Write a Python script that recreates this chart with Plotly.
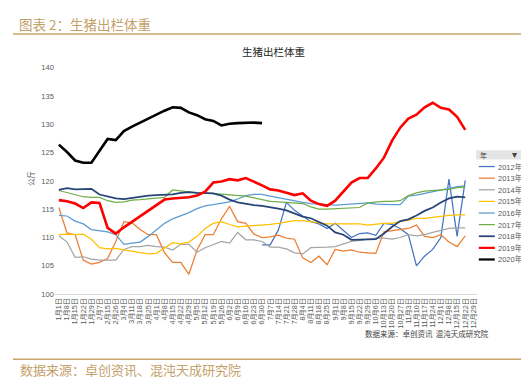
import plotly.graph_objects as go

W, H = 529, 379

categories = ["1月1日","1月8日","1月15日","1月22日","1月29日","2月7日","2月15日","2月26日",
              "3月4日","3月11日","3月18日","3月25日","4月1日","4月8日","4月15日","4月22日","4月29日",
              "5月5日","5月12日","5月19日","5月26日","6月2日","6月9日","6月16日","6月23日","6月30日",
              "7月7日","7月14日","7月21日","7月28日","8月4日","8月11日","8月18日","8月25日",
              "9月1日","9月8日","9月15日","9月22日","9月29日","10月6日","10月13日","10月20日","10月27日",
              "11月3日","11月10日","11月17日","11月24日","12月1日","12月8日","12月15日","12月22日","12月29日"]

y2012 = [None]*25 + [108.7,108.7,111.3,116.2,114.8,113.8,112.8,112.4,111.6,112.5,111.3,110.0,110.7,110.8,110.4,
                     112.5,112.3,111.6,110.5,105.0,106.7,107.9,110.0,120.3,110.2,120.1] + [None]
y2013 = [115.3,110.8,110.5,106.0,105.3,105.6,106.3,109.3,112.8,112.6,111.4,110.5,110.5,107.3,105.6,105.6,103.5,
         107.8,110.5,110.5,113.3,115.5,112.8,112.5,110.6,110.0,110.1,110.4,109.9,109.7,106.4,105.6,106.7,105.2,
         107.9,107.6,107.8,107.4,107.3,107.2,111.0,111.2,111.3,111.6,112.2,110.2,110.0,110.5,109.2,108.4,110.3,None]
y2014 = [110.3,109.2,106.5,106.6,106.2,106.0,106.0,106.0,107.9,108.4,108.4,108.6,108.4,108.3,107.8,108.8,108.8,
         107.4,108.2,108.8,109.3,109.0,110.9,109.6,109.6,109.3,108.3,108.3,108.0,107.3,107.1,108.2,108.2,108.3,
         108.4,108.8,109.3,109.5,109.7,109.9,109.9,109.7,110.0,110.5,110.3,110.5,110.9,111.3,111.6,111.7,111.7,None]
y2015 = [110.5,110.6,110.5,110.6,109.7,108.2,108.0,108.1,107.8,107.6,107.4,107.1,107.2,108.1,109.1,108.9,109.2,
         110.2,111.6,112.5,112.8,112.3,111.9,112.0,112.1,112.1,112.3,112.5,112.8,113.0,113.0,112.8,112.5,112.4,
         112.4,112.4,112.4,112.4,112.2,112.4,112.5,112.5,112.8,113.1,113.4,113.4,113.6,113.8,113.9,114.0,114.0,None]
y2016 = [113.9,113.8,112.9,112.4,111.4,111.2,111.0,110.5,108.8,109.0,109.2,110.2,111.4,112.5,113.3,113.8,114.4,
         115.1,115.6,115.8,116.0,116.3,116.8,117.4,117.6,117.6,117.3,117.0,116.8,116.4,116.2,116.0,115.9,115.8,
         115.7,115.8,115.9,115.9,116.1,115.9,115.8,115.8,115.8,117.3,117.5,117.8,118.1,118.4,118.8,119.0,119.1,None]
y2017 = [118.3,117.9,117.5,117.2,117.1,117.1,116.5,116.2,116.3,116.6,116.7,116.8,116.9,117.1,118.4,118.2,118.0,
         117.9,117.9,117.8,117.6,117.5,117.4,117.3,117.0,116.7,116.4,116.3,116.2,116.2,116.0,115.4,115.0,115.0,
         115.1,115.2,115.3,115.3,116.1,116.3,116.4,116.4,116.5,117.4,117.9,118.2,118.3,118.4,118.5,118.8,118.9,None]
y2018 = [118.4,118.7,118.5,118.5,118.6,117.6,117.2,116.9,116.8,117.0,117.3,117.4,117.5,117.5,117.6,117.9,118.0,
         117.9,117.8,117.8,117.4,116.7,116.2,115.9,115.7,115.6,115.4,115.1,114.8,114.2,113.7,113.4,112.8,112.1,
         110.9,110.5,109.6,109.6,109.6,109.7,110.7,111.9,112.9,113.2,113.9,114.7,115.3,116.2,116.9,117.2,117.1,None]
y2019 = [116.6,116.4,116.0,115.2,116.2,116.1,111.7,110.7,111.8,112.8,113.8,114.8,115.7,116.7,116.9,117.0,117.1,
         117.4,118.1,119.7,119.9,120.3,120.1,120.5,119.9,119.2,118.5,118.3,117.9,117.5,117.8,116.5,115.9,115.6,
         116.5,118.2,119.7,120.5,120.5,122.2,124.1,127.1,129.4,131.0,131.7,133.0,133.8,132.9,132.6,131.3,129.0,None]
y2020 = [126.4,125.1,123.6,123.2,123.2,125.4,127.4,127.2,128.8,129.6,130.3,131.1,131.7,132.4,133.0,132.9,132.1,
         131.6,130.9,130.6,129.8,130.1,130.2,130.3,130.3,130.2] + [None]*26

series_names = ["2012年","2013年","2014年","2015年","2016年","2017年","2018年","2019年","2020年"]
series_values = [y2012, y2013, y2014, y2015, y2016, y2017, y2018, y2019, y2020]
series_colors = ["#4472C4","#ED7D31","#A5A5A5","#FFC000","#5B9BD5","#70AD47","#264478","#FF0000","#000000"]
series_widths = [1.25, 1.25, 1.25, 1.25, 1.25, 1.25, 1.75, 2.6, 2.6]

y_ticks = [100,105,110,115,120,125,130,135,140]

def px(x):
    return x / W

def py(y):
    return 1 - y / H

fig = go.Figure()
for name, vals, col, wd in zip(series_names, series_values, series_colors, series_widths):
    fig.add_trace(go.Scatter(x=categories, y=vals, name=name, mode="lines",
                             line=dict(color=col, width=wd), connectgaps=False,
                             showlegend=False))

tick_font = dict(family="Liberation Sans, Noto Sans CJK SC, sans-serif", size=7.2, color="#595959")

fig.update_layout(
    width=W, height=H,
    margin=dict(l=0, r=0, t=0, b=0),
    paper_bgcolor="white", plot_bgcolor="white",
    showlegend=False,
    xaxis=dict(domain=[px(45.9), px(469.3)], type="category", range=[-0.5, 51.5],
               tickmode="array", tickvals=categories, ticktext=categories,
               tickangle=-90, tickfont=tick_font, showgrid=False, zeroline=False,
               showline=True, linecolor="#D9D9D9", linewidth=1, ticks="", ticklen=0),
    yaxis=dict(domain=[py(289), py(57)], range=[100, 140], tickmode="array",
               tickvals=y_ticks, tickfont=dict(family="Liberation Sans, sans-serif", size=7.5, color="#595959"),
               showgrid=False, zeroline=False, showline=False, ticks="", ticklen=0),
)

annotations = []
shapes = []

# header
annotations.append(dict(xref="paper", yref="paper", x=px(8), y=py(12.5), xanchor="left", yanchor="middle",
                        text="图表 2：生猪出栏体重", showarrow=False,
                        font=dict(family="Noto Sans CJK SC", size=13.5, color="#C4A06A")))
shapes.append(dict(type="line", xref="paper", yref="paper", x0=px(4), x1=px(525), y0=py(22.5), y1=py(22.5),
                   line=dict(color="#C9A46A", width=1.5)))
# footer
shapes.append(dict(type="line", xref="paper", yref="paper", x0=px(4), x1=px(525), y0=py(355.8), y1=py(355.8),
                   line=dict(color="#C9A46A", width=1.5)))
annotations.append(dict(xref="paper", yref="paper", x=px(9), y=py(366.5), xanchor="left", yanchor="middle",
                        text="数据来源：卓创资讯、混沌天成研究院", showarrow=False,
                        font=dict(family="Noto Sans CJK SC", size=13, color="#C4A06A")))
# chart title
annotations.append(dict(xref="paper", yref="paper", x=px(265), y=py(40), xanchor="center", yanchor="middle",
                        text="生猪出栏体重", showarrow=False,
                        font=dict(family="Noto Sans CJK SC", size=10.5, color="#262626")))
# y axis unit
annotations.append(dict(xref="paper", yref="paper", x=px(22), y=py(170), xanchor="center", yanchor="middle",
                        text="公斤", showarrow=False, textangle=-90,
                        font=dict(family="Noto Sans CJK SC", size=7.5, color="#595959")))
# source inside chart
annotations.append(dict(xref="paper", yref="paper", x=px(355), y=py(329), xanchor="left", yanchor="middle",
                        text="数据来源：卓创资讯  混沌天成研究院", showarrow=False,
                        font=dict(family="Noto Sans CJK SC", size=7.5, color="#404040")))

# legend (pivot style) header
shapes.append(dict(type="rect", xref="paper", yref="paper", x0=px(468), x1=px(513), y0=py(151), y1=py(141.5),
                   fillcolor="#E4E4E4", line=dict(width=0)))
annotations.append(dict(xref="paper", yref="paper", x=px(470), y=py(146.3), xanchor="left", yanchor="middle",
                        text="年", showarrow=False,
                        font=dict(family="Noto Sans CJK SC", size=7, color="#404040")))
annotations.append(dict(xref="paper", yref="paper", x=px(511), y=py(146.3), xanchor="right", yanchor="middle",
                        text="▾", showarrow=False,
                        font=dict(family="DejaVu Sans", size=10, color="#404040")))
for k, (name, col, wd) in enumerate(zip(series_names, series_colors, series_widths)):
    yy = 158.3 + k * 11.9
    shapes.append(dict(type="line", xref="paper", yref="paper", x0=px(470.7), x1=px(486.7),
                       y0=py(yy), y1=py(yy), line=dict(color=col, width=min(wd, 2.2))))
    annotations.append(dict(xref="paper", yref="paper", x=px(487.5), y=py(yy), xanchor="left", yanchor="middle",
                            text=name, showarrow=False,
                            font=dict(family="Liberation Sans, Noto Sans CJK SC", size=7.5, color="#595959")))

fig.update_layout(annotations=annotations, shapes=shapes)
fig.write_html("out.html")
